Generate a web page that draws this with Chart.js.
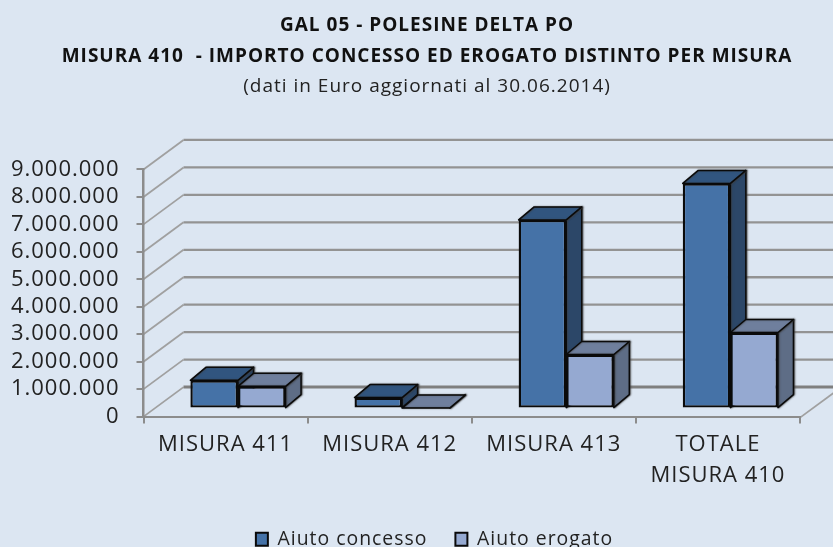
<!DOCTYPE html>
<html><head><meta charset="utf-8">
<style>html,body{margin:0;padding:0;background:#DCE6F2;overflow:hidden}canvas{display:block}</style>
<script src="https://cdn.jsdelivr.net/npm/chart.js@4"></script>
</head><body><canvas id="c" width="833" height="547"></canvas>
<script>
const categories = ['MISURA 411','MISURA 412','MISURA 413',['TOTALE','MISURA 410']];
const concesso = [1030000,400000,6870000,8200000];
const erogato = [810000,20000,1970000,2770000];
const yMax = 9000000;
const yStep = 1000000;
const titleLines = ['GAL 05 - POLESINE DELTA PO','MISURA 410  - IMPORTO CONCESSO ED EROGATO DISTINTO PER MISURA'];
const subtitleLine = '(dati in Euro aggiornati al 30.06.2014)';
const seriesNames = ['Aiuto concesso','Aiuto erogato'];
const FONT = '"Open Sans", sans-serif';
const wall = {dx:40, dy:-29.5};
const barShift = {dx:12.4, dy:-8};
const barDepth = {dx:15.5, dy:-13};
const shades = [{front:'#4572A7',top:'#31557F',side:'#2C4768'},{front:'#95A9D1',top:'#6F7F9D',side:'#5E6D86'}];

function drawSides(ctx,meta,s){
  meta.data.forEach(b=>{
    const l=b.x-b.width/2,r=b.x+b.width/2,t=b.y,bot=b.base;
    ctx.save();
    ctx.lineJoin='round';ctx.strokeStyle='#0A0A0A';ctx.lineWidth=1.5;
    ctx.shadowColor='rgba(60,60,60,.7)';ctx.shadowBlur=1.5;ctx.shadowOffsetX=1;ctx.shadowOffsetY=0;
    ctx.fillStyle=s.side;
    ctx.beginPath();ctx.moveTo(r,t);ctx.lineTo(r+barDepth.dx,t+barDepth.dy);ctx.lineTo(r+barDepth.dx,bot+barDepth.dy);ctx.lineTo(r,bot);ctx.closePath();ctx.fill();ctx.stroke();
    ctx.fillStyle=s.top;
    ctx.beginPath();ctx.moveTo(l,t);ctx.lineTo(l+barDepth.dx,t+barDepth.dy);ctx.lineTo(r+barDepth.dx,t+barDepth.dy);ctx.lineTo(r,t);ctx.closePath();ctx.fill();ctx.stroke();
    ctx.restore();
  });
}

const scene3d = {
  id:'scene3d',
  beforeUpdate(chart){ chart.ctx.letterSpacing='1px'; },
  beforeDraw(chart){
    const {ctx,scales:{y},chartArea:a}=chart;
    ctx.save();
    ctx.fillStyle='#DCE6F2';ctx.fillRect(0,0,chart.width,chart.height);
    y.ticks.forEach(t=>{
      const py=y.getPixelForValue(t.value);
      ctx.strokeStyle='#A0A0A0';ctx.lineWidth=1.8;
      ctx.beginPath();ctx.moveTo(a.left,py);ctx.lineTo(a.left+wall.dx,py+wall.dy);ctx.stroke();
      ctx.strokeStyle=t.value===0?'#7F7F7F':'#939393';ctx.lineWidth=t.value===0?3:2.3;
      ctx.beginPath();ctx.moveTo(a.left+wall.dx,py+wall.dy);ctx.lineTo(chart.width+10,py+wall.dy);ctx.stroke();
    });
    const y0=y.getPixelForValue(0);
    ctx.strokeStyle='#A0A0A0';ctx.lineWidth=1.8;
    ctx.beginPath();ctx.moveTo(a.right,y0+1);ctx.lineTo(a.right+wall.dx,y0+1+wall.dy);ctx.stroke();
    ctx.restore();
  },
  beforeDatasetDraw(chart,args){
    if(args.index===1) return false;
    const {ctx}=chart;
    ctx.save();
    ctx.translate(barShift.dx,barShift.dy);
    drawSides(ctx,args.meta,shades[args.index]);
  },
  afterDatasetDraw(chart){chart.ctx.restore();},
  afterDatasetsDraw(chart){
    const {ctx}=chart,meta=chart.getDatasetMeta(1);
    ctx.save();
    ctx.translate(barShift.dx,barShift.dy);
    drawSides(ctx,meta,shades[1]);
    meta.controller.draw();
    ctx.restore();
  },
  afterLayout(chart){
    const lg=chart.legend;
    const w=lg.right-lg.left,h=lg.bottom-lg.top;
    lg.left=34.5;lg.right=34.5+w;
    lg.top=501.6;lg.bottom=lg.top+h;
    chart.boxes.filter(b=>b.options&&(b.options.text===subtitleLine||b.options.text===titleLines)).forEach(b=>{b.left+=27;b.right+=27;});
  }
};

new Chart(document.getElementById('c'),{
  type:'bar',
  data:{labels:categories,datasets:[
    {label:seriesNames[0],data:concesso,backgroundColor:shades[0].front,borderColor:'#0A0A0A',borderWidth:2.4,borderSkipped:false,categoryPercentage:0.58,barPercentage:1},
    {label:seriesNames[1],data:erogato,backgroundColor:shades[1].front,borderColor:'#0A0A0A',borderWidth:2.4,borderSkipped:false,categoryPercentage:0.58,barPercentage:1}
  ]},
  options:{
    responsive:false,animation:false,
    layout:{padding:{left:0,right:33,top:0,bottom:-20}},
    plugins:{
      tooltip:{enabled:false},
      title:{display:true,text:titleLines,color:'#111',font:{family:FONT,size:19,weight:'bold',lineHeight:1.63},padding:{top:10,bottom:0}},
      subtitle:{display:true,text:subtitleLine,color:'#222',font:{family:FONT,size:19,weight:'normal',lineHeight:1.5},padding:{top:0,bottom:69}},
      legend:{position:'bottom',labels:{color:'#222',font:{family:FONT,size:19.4},boxWidth:12,boxHeight:13,padding:28,
        generateLabels(chart){return seriesNames.map((n,i)=>({text:n,fillStyle:shades[i].front,strokeStyle:'#0A0A0A',lineWidth:2,datasetIndex:i,fontColor:'#222'}));}}}
    },
    scales:{
      x:{grid:{display:true,drawOnChartArea:false,drawTicks:true,tickLength:7,color:'#8C8C8C',lineWidth:2},border:{color:'#8C8C8C',width:2},
        ticks:{color:'#222',font:{family:FONT,size:22,lineHeight:1.41},maxRotation:0,minRotation:0,padding:6,autoSkip:false},
        afterFit(s){s.height=93;}},
      y:{min:0,max:yMax,grid:{drawOnChartArea:false,tickLength:7,color:'#8C8C8C',lineWidth:2},border:{color:'#8C8C8C',width:2.5},
        ticks:{stepSize:yStep,autoSkip:false,color:'#222',padding:17,font:{family:FONT,size:22},callback:v=>String(v).replace(/\B(?=(\d{3})+$)/g,'.')},
        afterFit(s){s.width=143.5;}}
    }
  },
  plugins:[scene3d]
});
</script></body></html>
